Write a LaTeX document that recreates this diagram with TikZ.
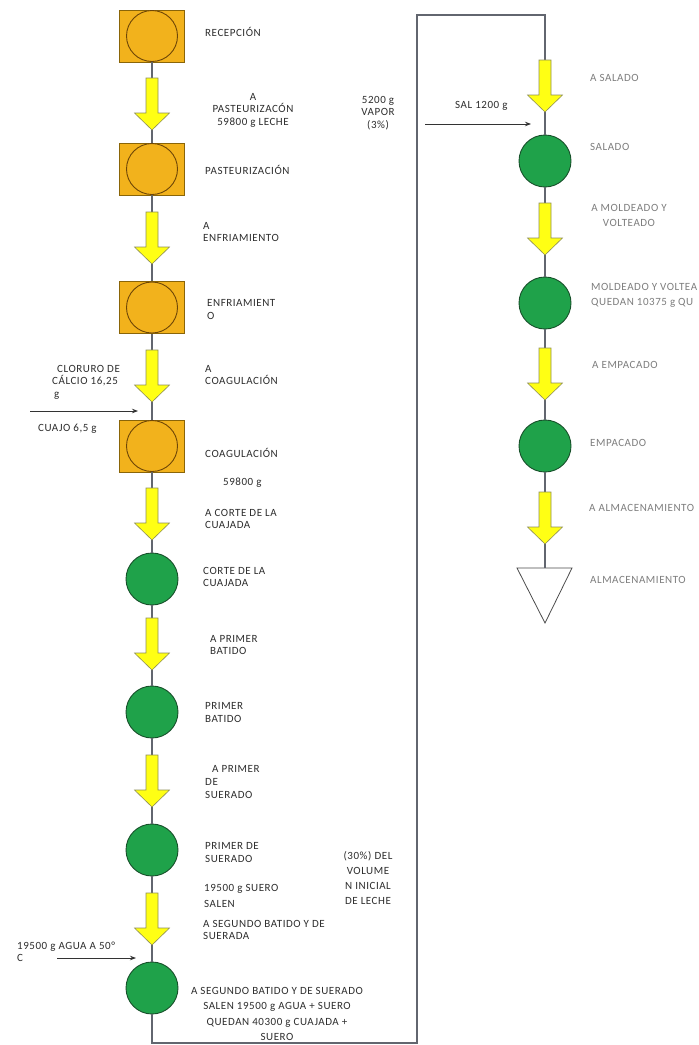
\documentclass[tikz,border=0pt]{standalone}
\usepackage{fontspec}
\setmainfont{Carlito}[LetterSpace=5]
\usetikzlibrary{arrows.meta}
\definecolor{sqorange}{HTML}{F2B21C}
\definecolor{sqedge}{HTML}{8A6508}
\definecolor{circedge}{HTML}{6E4606}
\definecolor{stepgreen}{HTML}{1FA24A}
\definecolor{greenedge}{HTML}{17502A}
\definecolor{arrowyellow}{HTML}{FFFF14}
\definecolor{arrowedge}{HTML}{8F8F55}
\definecolor{connline}{HTML}{62666F}
\definecolor{lbl}{HTML}{2E2E2E}
\definecolor{lbllight}{HTML}{7E7E7E}
\tikzset{
 yarrow/.style={draw=arrowedge, fill=arrowyellow, line width=0.6pt, line join=miter},
 yarr/.pic={\path[yarrow] (-6,0) -- (6,0) -- (6,35) -- (17.5,35) -- (0,52) -- (-17.5,35) -- (-6,35) -- cycle;}
}
\begin{document}
\begin{tikzpicture}[x=1pt,y=-1pt,
 every node/.style={font=\fontsize{11}{12.5}\selectfont},
 sqbox/.style={draw=sqedge, fill=sqorange, line width=0.8pt, minimum width=65pt, minimum height=52pt, inner sep=0pt},
 sqcirc/.style={circle, draw=circedge, fill=sqorange, line width=0.9pt, minimum size=51pt, inner sep=0pt},
 gcirc/.style={circle, draw=greenedge, fill=stepgreen, line width=0.9pt, minimum size=52pt, inner sep=0pt},
 conn/.style={draw=connline, line width=1.1pt},
 feed/.style={draw=black!80, line width=0.8pt, -{Stealth[length=6pt,width=4.5pt]}},
 lab/.style={text=lbl, anchor=west, align=left, inner sep=0pt},
 labc/.style={text=lbl, anchor=center, align=center, inner sep=0pt},
 rlab/.style={text=lbllight, anchor=west, align=left, inner sep=0pt},
 rlabc/.style={text=lbllight, anchor=center, align=center, inner sep=0pt}
]
\useasboundingbox[fill=white] (0,0) rectangle (699,1045);

% ---- left column process nodes
\node[sqbox] (sq1) at (152,36) {};   \node[sqcirc] (sq1c) at (sq1) {};
\node[sqbox] (sq2) at (152,169) {};  \node[sqcirc] (sq2c) at (sq2) {};
\node[sqbox] (sq3) at (152,307.5) {};\node[sqcirc] (sq3c) at (sq3) {};
\node[sqbox] (sq4) at (152,446) {};  \node[sqcirc] (sq4c) at (sq4) {};
\node[gcirc] (c1) at (152,579) {};
\node[gcirc] (c2) at (152,712) {};
\node[gcirc] (c3) at (152,850) {};
\node[gcirc] (c4) at (152,988) {};

% ---- right column process nodes
\node[gcirc] (r1) at (545,161) {};
\node[gcirc] (r2) at (545,303) {};
\node[gcirc] (r3) at (545,446) {};
\coordinate (alm) at (545,568);
\draw[draw=black!70, fill=white, line width=0.8pt] (517,568) -- (572,568) -- (545,623) -- cycle;

% ---- connectors
\draw[conn] (sq1) -- (sq2);
\draw[conn] (sq2) -- (sq3);
\draw[conn] (sq3) -- (sq4);
\draw[conn] (sq4) -- (c1);
\draw[conn] (c1) -- (c2);
\draw[conn] (c2) -- (c3);
\draw[conn] (c3) -- (c4);
\coordinate (fb) at (152,1043);
\coordinate (fbr) at (417,1043);
\coordinate (ftr) at (417,15);
\coordinate (ftl) at (545,15);
\draw[conn] (c4) -- (fb) -- (fbr) -- (ftr) -- (ftl) -- (r1);
\draw[conn] (r1) -- (r2);
\draw[conn] (r2) -- (r3);
\draw[conn] (r3) -- (alm);

% ---- block arrows
\pic at (152,78) {yarr};
\pic at (152,212) {yarr};
\pic at (152,350) {yarr};
\pic at (152,488) {yarr};
\pic at (152,618) {yarr};
\pic at (152,755) {yarr};
\pic at (152,893) {yarr};
\pic at (545,60) {yarr};
\pic at (545,203) {yarr};
\pic at (545,348) {yarr};
\pic at (545,492) {yarr};

% ---- feed arrows
\coordinate (f1s) at (30,411);  \coordinate (f1e) at (138,411);
\coordinate (f2s) at (57,958);  \coordinate (f2e) at (136,958);
\coordinate (f3s) at (425,124); \coordinate (f3e) at (531,124);
\draw[feed] (f1s) -- (f1e);
\draw[feed] (f2s) -- (f2e);
\draw[feed] (f3s) -- (f3e);

% ---- left labels
\node[lab] (t1) at (205,32) {RECEPCIÓN};
\node[labc] (t2) at (253,110) {A\\PASTEURIZACÓN\\59800 g LECHE};
\node[labc] (t3) at (378,113) {5200 g\\VAPOR\\(3\%)};
\node[lab] (t4) at (205,170) {PASTEURIZACIÓN};
\node[lab] (t5) at (203,232) {A\\ENFRIAMIENTO};
\node[lab] (t6) at (207,309.5) {ENFRIAMIENT\\O};
\node[lab] (t7) at (52,382) {\hspace*{5pt}CLORURO DE\\CÁLCIO 16,25\\\hspace*{2pt}g};
\node[lab] (t8) at (205,375) {A\\COAGULACIÓN};
\node[lab] (t9) at (38,429) {CUAJO 6,5 g};
\node[lab] (t10) at (205,453) {COAGULACIÓN};
\node[lab] (t11) at (223,483) {59800 g};
\node[lab] (t12) at (205,519) {A CORTE DE LA\\CUAJADA};
\node[lab] (t13) at (203,577) {CORTE DE LA\\CUAJADA};
\node[lab] (t14) at (210,645) {A PRIMER\\BATIDO};
\node[lab] (t15) at (205,712.5) {PRIMER\\BATIDO};
\node[lab] (t16) at (205,782) {\hspace*{7pt}A PRIMER\\DE\\SUERADO};
\node[lab] (t17) at (205,852.5) {PRIMER DE\\SUERADO};
\node[lab] (t18) at (204,889) {19500 g SUERO};
\node[lab] (t19) at (204,904) {SALEN};
\node[lab] (t20) at (203,930) {A SEGUNDO BATIDO Y DE\\SUERADA};
\node[labc, font=\fontsize{11}{15}\selectfont] (t21) at (368,878) {(30\%) DEL\\VOLUME\\N INICIAL\\DE LECHE};
\node[lab] (t22) at (17,952) {19500 g AGUA A 50°\\C};
\node[labc, font=\fontsize{11}{15.3}\selectfont] (t23) at (277,1014) {A SEGUNDO BATIDO Y DE SUERADO\\SALEN 19500 g AGUA + SUERO\\QUEDAN 40300 g CUAJADA +\\SUERO};

% ---- right labels
\node[lab] (s1) at (455,106) {SAL 1200 g};
\node[rlab] (s2) at (590,78) {A SALADO};
\node[rlab] (s3) at (590,147) {SALADO};
\node[rlabc, font=\fontsize{11}{15}\selectfont] (s4) at (629,215.5) {A MOLDEADO Y\\VOLTEADO};
\node[rlab, font=\fontsize{11}{15}\selectfont] (s5) at (591,295.5) {MOLDEADO Y VOLTEA\\QUEDAN 10375 g QU};
\node[rlab] (s6) at (592,365) {A EMPACADO};
\node[rlab] (s7) at (590,443) {EMPACADO};
\node[rlab] (s8) at (589,508) {A ALMACENAMIENTO};
\node[rlab] (s9) at (590,580) {ALMACENAMIENTO};
\end{tikzpicture}
\end{document}
